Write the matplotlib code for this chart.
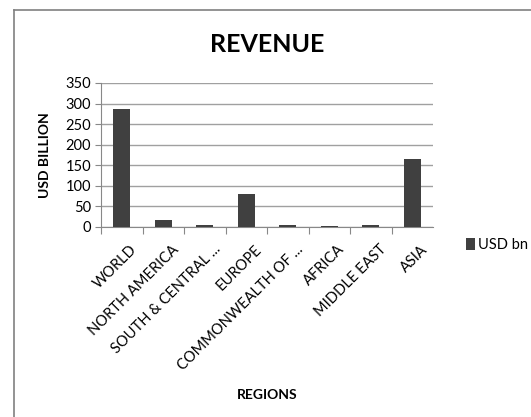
import matplotlib.pyplot as plt
from matplotlib.lines import Line2D

regions = ['WORLD', 'NORTH AMERICA', 'SOUTH & CENTRAL ...', 'EUROPE',
           'COMMONWEALTH OF ...', 'AFRICA', 'MIDDLE EAST', 'ASIA']
revenue = [286, 18, 4, 81, 4, 2, 6, 166]
yticks = [0, 50, 100, 150, 200, 250, 300, 350]

plt.rcParams['font.family'] = ['Lato', 'DejaVu Sans']

W, H = 531, 417
fig = plt.figure(figsize=(W / 100, H / 100), dpi=100)
ax = fig.add_axes([101 / W, 1 - 227 / H, (433 - 101) / W, (227 - 83) / H])

x = range(len(regions))
ax.bar(x, revenue, width=0.4, color='#404040', label='USD bn', zorder=3)
ax.set_xlim(-0.5, len(regions) - 0.5)
ax.set_ylim(0, 350)
ax.set_yticks(yticks)
ax.grid(axis='y', color='#a0a0a0', linewidth=1)
ax.tick_params(axis='y', length=4, color='#888888', labelsize=10.5, pad=3)
for s in ['top', 'right']:
    ax.spines[s].set_visible(False)
for s in ['left', 'bottom']:
    ax.spines[s].set_color('#888888')

# category labels centred under bars, ticks at category boundaries
ax.set_xticks([i + 0.5 for i in x][:-1] + [-0.5])
ax.set_xticklabels([])
ax.tick_params(axis='x', length=5, color='#888888')
for i, r in zip(x, regions):
    ax.annotate(r, xy=(i + 0.2, 0), xycoords=('data', 'axes fraction'),
                xytext=(0, -11), textcoords='offset points',
                rotation=45, ha='right', va='top', fontsize=10.5,
                rotation_mode='anchor')

fig.text(267 / W, 1 - 45 / H, 'REVENUE', ha='center', va='center',
         fontsize=18, fontweight='bold')
fig.text(45 / W, 1 - 155 / H, 'USD BILLION', ha='center', va='center',
         rotation=90, fontsize=10, fontweight='bold')
fig.text(267 / W, 1 - 395 / H, 'REGIONS', ha='center', va='center',
         fontsize=10, fontweight='bold')

fig.legend(loc='center left', bbox_to_anchor=(466 / W, 1 - 245 / H),
           frameon=False, fontsize=10.5, handlelength=0.6, handleheight=0.9,
           handletextpad=0.25, borderpad=0, borderaxespad=0)

# chart frame
fig.add_artist(Line2D([14 / W, 14 / W], [0, 1 - 10 / H], color='#808080',
                      linewidth=1.2, transform=fig.transFigure))
fig.add_artist(Line2D([14 / W, 1], [1 - 10 / H, 1 - 10 / H], color='#808080',
                      linewidth=1.2, transform=fig.transFigure))

fig.savefig('out.png', dpi=100)
